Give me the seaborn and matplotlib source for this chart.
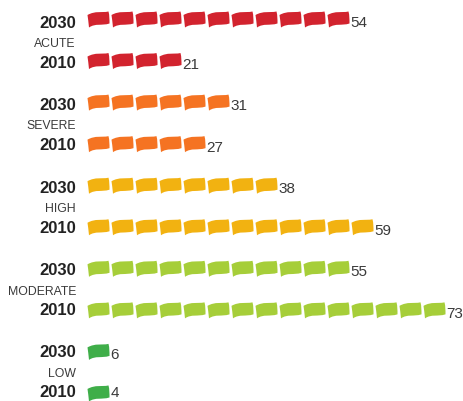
# Flag pictogram: one flag for every 5 units, 2030 vs 2010 per level.

import pandas as pd
import seaborn as sns
import matplotlib.pyplot as plt
from matplotlib.path import Path

levels = ['ACUTE', 'SEVERE', 'HIGH', 'MODERATE', 'LOW']
years = ['2030', '2010']
values_2030 = [54, 31, 38, 55, 6]
values_2010 = [21, 27, 59, 73, 4]
colors = ['#d2232e', '#f57322', '#f2b211', '#a6ce39', '#3fae49']

sns.set_theme(style='white')
plt.rcParams['font.family'] = ['Liberation Sans', 'DejaVu Sans']

flag = Path(
    [(-11, 4.5), (-3, 9), (3, 6.5), (10, 8),
     (11, 4), (11, 0), (11, -4),
     (3, -6.5), (-3, -3.5), (-9.5, -8),
     (-10, -3), (-10.5, 1), (-11, 4.5), (-11, 4.5)],
    [Path.MOVETO, Path.CURVE4, Path.CURVE4, Path.CURVE4,
     Path.CURVE4, Path.CURVE4, Path.CURVE4,
     Path.CURVE4, Path.CURVE4, Path.CURVE4,
     Path.CURVE4, Path.CURVE4, Path.CURVE4, Path.CLOSEPOLY])

rows = []
ends = []
for i, level in enumerate(levels):
    for j, v in enumerate([values_2030[i], values_2010[i]]):
        row = 2 * i + j
        n = max(1, round(v / 5))
        ends.append((n - 1, row, v))
        for k in range(n):
            rows.append({'flag': k, 'row': row, 'level': level})
df = pd.DataFrame(rows)

fig = plt.figure(figsize=(4.63, 4.01), dpi=100)
ax = fig.add_axes([0, 0, 1, 1])
sns.scatterplot(data=df, x='flag', y='row', hue='level', hue_order=levels,
                palette=colors, marker=flag, s=251, linewidth=0, legend=False, ax=ax)

# axes fill the figure: 24px per flag, 41.55px per row
ax.set_xlim(-98.5 / 24, (463 - 98.5) / 24)
ax.set_ylim((401 - 19.5) / 41.55, -19.5 / 41.55)
ax.axis('off')

for x, row, v in ends:
    # last row sits on the bottom edge, keep its number inside the figure
    dy = 0.5 if row == 9 else -2.5
    ax.annotate(str(v), (x, row), xytext=(8.5, dy), textcoords='offset points',
                ha='left', va='center', fontsize=11, color='#3a3a3a')

label_x = -0.94
for i, level in enumerate(levels):
    ax.text(label_x, 1.98 * i + 0.1, years[0], ha='right', va='center', fontsize=12,
            fontweight='bold', color='#222222')
    ax.text(label_x, 1.98 * i + 1.06, years[1], ha='right', va='center', fontsize=12,
            fontweight='bold', color='#222222')
    ax.text(label_x, 1.99 * i + 0.58, level, ha='right', va='center', fontsize=8.8,
            color='#3a3a3a')

fig.savefig('out.png', dpi=100)
